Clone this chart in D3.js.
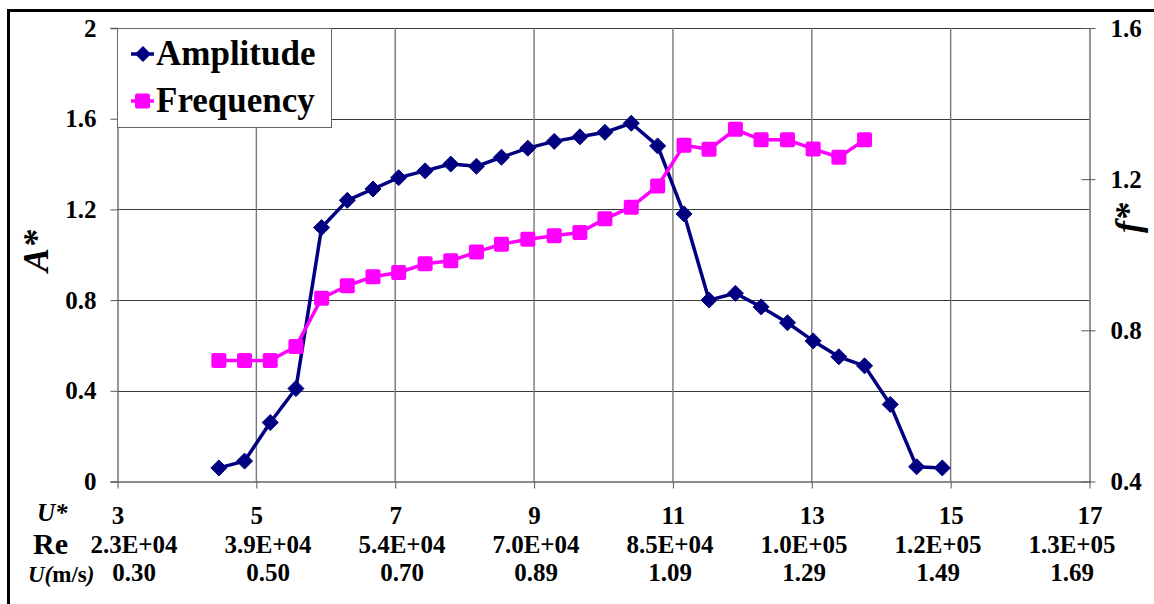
<!DOCTYPE html>
<html lang="en">
<head>
<meta charset="UTF-8">
<title>Amplitude and frequency</title>
<script src="https://d3js.org/d3.v7.min.js"></script>
<style>
  body { margin: 0; background: #fff; }
  svg text { font-family: 'Liberation Serif', 'Times New Roman', serif; font-weight: bold; }
</style>
</head>
<body>
<svg></svg>
<script>
  // reduced velocity of each test
  const uStar = [4.46, 4.83, 5.20, 5.57, 5.94, 6.31, 6.68, 7.05, 7.43, 7.80, 8.17, 8.53, 8.91, 9.29,
    9.66, 10.02, 10.40, 10.78, 11.16, 11.52, 11.90, 12.27, 12.65, 13.02, 13.39, 13.76, 14.13, 14.51, 14.88]

  // A* (left axis)
  const amplitude = [0.06, 0.09, 0.26, 0.41, 1.12, 1.24, 1.29, 1.34, 1.37, 1.40, 1.39, 1.43, 1.47, 1.50,
    1.52, 1.54, 1.58, 1.48, 1.18, 0.80, 0.83, 0.77, 0.70, 0.62, 0.55, 0.51, 0.34, 0.065, 0.06]

  // f* (right axis), only the first 26 tests
  const frequency = [0.72, 0.72, 0.72, 0.757, 0.885, 0.918, 0.942, 0.953, 0.976, 0.984, 1.007, 1.028, 1.041,
    1.050, 1.059, 1.095, 1.126, 1.182, 1.290, 1.279, 1.332, 1.304, 1.304, 1.280, 1.258, 1.304]

  const uStarTicks = [3, 5, 7, 9, 11, 13, 15, 17]
  const reLabels = ['2.3E+04', '3.9E+04', '5.4E+04', '7.0E+04', '8.5E+04', '1.0E+05', '1.2E+05', '1.3E+05']
  const uLabels = ['0.30', '0.50', '0.70', '0.89', '1.09', '1.29', '1.49', '1.69']
  const aTicks = [0, 0.4, 0.8, 1.2, 1.6, 2]
  const fTicks = [0.4, 0.8, 1.2, 1.6]

  const width = 1154
  const height = 604
  const navy = '#000080'
  const magenta = '#ff00ff'
  const serif = "'Liberation Serif', 'Times New Roman', serif"

  const svg = d3.select('svg').attr('width', width).attr('height', height)

  const x = d3.scaleLinear().domain([3, 17]).range([117.5, 1089.5])
  const yA = d3.scaleLinear().domain([0, 2]).range([481.5, 28])
  const yF = d3.scaleLinear().domain([0.4, 1.6]).range([481.5, 28])
  // the Re and U rows are typed under the axis, a bit off the U* ticks
  const rowX = d3.scalePoint().domain(d3.range(reLabels.length)).range([134, 1072])

  // outer frame (right and bottom edges fall outside the picture)
  svg.append('rect')
    .attr('x', 8.5).attr('y', 10.5)
    .attr('width', 1170).attr('height', 620)
    .attr('fill', 'none').attr('stroke', '#000').attr('stroke-width', 3)

  // grid
  const grid = svg.append('g')
  grid.selectAll('.hg')
    .data(aTicks.slice(1))
    .join('line')
    .attr('x1', x(3)).attr('x2', x(17))
    .attr('y1', d => Math.round(yA(d)) + 0.5).attr('y2', d => Math.round(yA(d)) + 0.5)
    .attr('stroke', '#3a3a3a').attr('stroke-width', 1.1)
  grid.selectAll('.vg')
    .data(uStarTicks.slice(1, -1))
    .join('line')
    .attr('x1', d => x(d)).attr('x2', d => x(d))
    .attr('y1', yA(2)).attr('y2', yA(0))
    .attr('stroke', '#777').attr('stroke-width', 1.4)

  // left axis
  const leftAxis = svg.append('g')
    .attr('transform', `translate(${x(3)},0)`)
    .call(d3.axisLeft(yA).tickValues(aTicks).tickSize(7).tickPadding(14)
      .tickFormat(d => (d === 0 || d === 2) ? String(d) : d.toFixed(1)))

  // right axis, ticks cross the line
  const rightAxis = svg.append('g')
    .attr('transform', `translate(${x(17)},0)`)
    .call(d3.axisRight(yF).tickValues(fTicks).tickSizeInner(6).tickSizeOuter(0).tickPadding(15)
      .tickFormat(d3.format('.1f')))
  rightAxis.selectAll('.tick line').attr('x1', -8)

  // bottom axis
  const bottomAxis = svg.append('g')
    .attr('transform', `translate(0,${yA(0)})`)
    .call(d3.axisBottom(x).tickValues(uStarTicks).tickSize(7).tickSizeOuter(0).tickPadding(18)
      .tickFormat(d3.format('d')))

  svg.selectAll('.domain').attr('stroke', '#666').attr('stroke-width', 1.4)
  svg.selectAll('.tick line').attr('stroke', '#555')
  svg.selectAll('.tick text').attr('fill', '#000').style('font-size', '25px')

  // Re and U rows
  svg.append('g').selectAll('text')
    .data(reLabels)
    .join('text')
    .attr('x', (d, i) => rowX(i)).attr('y', 553)
    .attr('text-anchor', 'middle').style('font-size', '25px')
    .text(d => d)
  svg.append('g').selectAll('text')
    .data(uLabels)
    .join('text')
    .attr('x', (d, i) => rowX(i)).attr('y', 581)
    .attr('text-anchor', 'middle').style('font-size', '25px')
    .text(d => d)

  // row names
  svg.append('text').attr('x', 37).attr('y', 521)
    .style('font-size', '25px').style('font-style', 'italic').text('U*')
  svg.append('text').attr('x', 33).attr('y', 554)
    .style('font-size', '30px').text('Re')
  const uName = svg.append('text').attr('x', 28).attr('y', 582).style('font-size', '23px')
  uName.append('tspan').style('font-style', 'italic').text('U(')
  uName.append('tspan').text('m/s')
  uName.append('tspan').style('font-style', 'italic').text(')')

  // axis titles
  svg.append('text')
    .attr('transform', 'translate(48,251) rotate(-90)')
    .attr('text-anchor', 'middle')
    .style('font-size', '36px').style('font-style', 'italic')
    .text('A*')
  svg.append('text')
    .attr('transform', 'translate(1140,218) rotate(-90)')
    .attr('text-anchor', 'middle')
    .style('font-size', '36px').style('font-style', 'italic')
    .text('f*')

  // series
  const diamond = s => `M0,${-s}L${s},0L0,${s}L${-s},0Z`

  const ampData = uStar.map((u, i) => ({ u: u, v: amplitude[i] }))
  const freqData = frequency.map((f, i) => ({ u: uStar[i], v: f }))

  svg.append('path')
    .datum(ampData)
    .attr('fill', 'none').attr('stroke', navy).attr('stroke-width', 3.5)
    .attr('stroke-linejoin', 'round')
    .attr('d', d3.line().x(d => x(d.u)).y(d => yA(d.v)))
  svg.append('g').selectAll('path')
    .data(ampData)
    .join('path')
    .attr('transform', d => `translate(${x(d.u)},${yA(d.v)})`)
    .attr('d', diamond(8))
    .attr('fill', navy).attr('stroke', navy).attr('stroke-width', 1).attr('stroke-linejoin', 'round')

  svg.append('path')
    .datum(freqData)
    .attr('fill', 'none').attr('stroke', magenta).attr('stroke-width', 3.5)
    .attr('stroke-linejoin', 'round')
    .attr('d', d3.line().x(d => x(d.u)).y(d => yF(d.v)))
  svg.append('g').selectAll('rect')
    .data(freqData)
    .join('rect')
    .attr('x', d => x(d.u) - 7.5).attr('y', d => yF(d.v) - 7.5)
    .attr('width', 15).attr('height', 15).attr('rx', 2)
    .attr('fill', magenta)

  // legend
  const legend = svg.append('g')
  legend.append('rect')
    .attr('x', 117.5).attr('y', 28.5).attr('width', 214).attr('height', 99)
    .attr('fill', '#fff').attr('stroke', '#666').attr('stroke-width', 1)
  const items = [
    { name: 'Amplitude', color: navy, y: 54 },
    { name: 'Frequency', color: magenta, y: 101 }
  ]
  items.forEach((it, i) => {
    legend.append('line')
      .attr('x1', 131).attr('x2', 154).attr('y1', it.y).attr('y2', it.y)
      .attr('stroke', it.color).attr('stroke-width', 3.5)
    if (i === 0) {
      legend.append('path').attr('transform', `translate(143,${it.y})`)
        .attr('d', diamond(8)).attr('fill', it.color)
    } else {
      legend.append('rect').attr('x', 135).attr('y', it.y - 7.5)
        .attr('width', 15).attr('height', 15).attr('rx', 2).attr('fill', it.color)
    }
    legend.append('text')
      .attr('x', 156).attr('y', it.y + 11)
      .style('font-size', '35px')
      .text(it.name)
  })

  // the axis groups carry their own sans-serif font, put the serif back
  svg.selectAll('text').style('font-family', serif).style('font-weight', 'bold')
</script>
</body>
</html>
